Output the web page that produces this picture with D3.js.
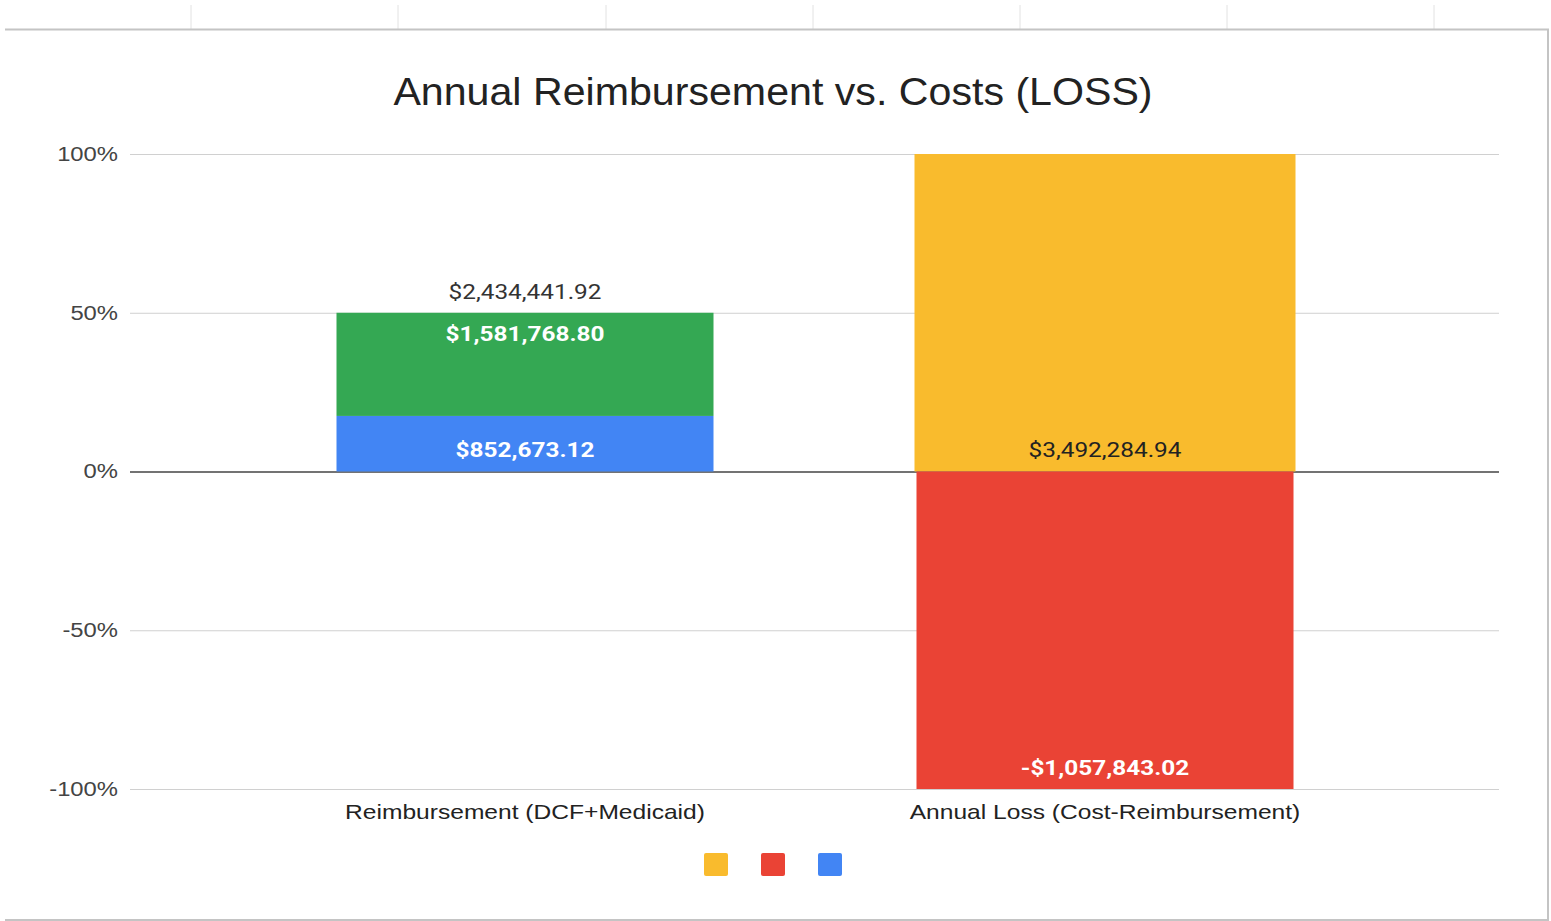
<!DOCTYPE html>
<html>
<head>
<meta charset="utf-8">
<script src="https://cdn.jsdelivr.net/npm/d3@7"></script>
<style>
  body { margin: 0; background: #fff; }
  svg { display: block; }
</style>
</head>
<body>
<svg id="chart"></svg>
<script>
// chart data
const categories = ["Reimbursement (DCF+Medicaid)", "Annual Loss (Cost-Reimbursement)"]
const seriesNames = ["Blue", "Green", "Yellow", "Red"]
// share of each segment, in percent of the stacked axis
const bluePct = [17.5, 0]
const greenPct = [32.5, 0]
const yellowPct = [0, 100]
const redPct = [0, -100]
const segmentLabels = [
    ["$852,673.12", ""],
    ["$1,581,768.80", ""],
    ["", "$3,492,284.94"],
    ["", "-$1,057,843.02"]
]
const totalLabels = ["$2,434,441.92", ""]
const yTicks = [-100, -50, 0, 50, 100]
const legendColors = ["#f9bb2d", "#ea4335", "#4285f4"]

const config = {
    width: 1551,
    height: 921,
    plot: { left: 130, right: 1499, top: 154, bottom: 789 },
    colors: ["#4285f4", "#34a853", "#f9bb2d", "#ea4335"],
    labelColors: ["#ffffff", "#ffffff", "#222222", "#ffffff"],
    labelBold: [true, true, false, true],
    // the screenshot is a bit wider than tall, so text gets stretched sideways
    stretch: 1.16
}

const svg = d3.select('#chart')
    .attr('width', config.width)
    .attr('height', config.height)

// widen a text selection horizontally, keeping its anchor
function stretchText(sel, k) {
    sel.each(function () {
        const len = this.getComputedTextLength()
        if (len > 0) {
            d3.select(this)
                .attr('textLength', len * k)
                .attr('lengthAdjust', 'spacingAndGlyphs')
        }
    })
}

// spreadsheet bits around the chart
const sheetCols = [191, 398, 606, 813, 1020, 1227, 1434]
svg.selectAll('.sheet-col')
    .data(sheetCols)
    .join('line')
        .attr('class', 'sheet-col')
        .attr('x1', d => d).attr('x2', d => d)
        .attr('y1', 5).attr('y2', 29)
        .attr('stroke', '#e2e2e2')
// chart frame: top, right and bottom edges
svg.append('path')
    .attr('d', 'M5,29.5H1548V920H5')
    .attr('fill', 'none')
    .attr('stroke', '#c4c4c4')
    .attr('stroke-width', 2)

const x = d3.scaleBand()
    .domain(categories)
    .range([235, 1395])
    .paddingInner(0.35)
    .paddingOuter(0.175)

const y = d3.scaleLinear()
    .domain([-100, 100])
    .range([config.plot.bottom, config.plot.top])

// title
svg.append('text')
    .attr('x', 773)
    .attr('y', 105)
    .attr('text-anchor', 'middle')
    .attr('font-family', 'Liberation Sans, Arial, sans-serif')
    .attr('font-size', 39)
    .attr('fill', '#222')
    .text('Annual Reimbursement vs. Costs (LOSS)')
    .call(stretchText, 1.055)

// gridlines + y axis labels
const yAxis = d3.axisLeft(y)
    .tickValues(yTicks)
    .tickSize(-(config.plot.right - config.plot.left))
    .tickFormat(d => d + '%')
    .tickPadding(12)

const yAxisGroup = svg.append('g')
    .attr('transform', `translate(${config.plot.left},0)`)
    .call(yAxis)
yAxisGroup.select('.domain').remove()
yAxisGroup.selectAll('.tick line')
    .attr('stroke', d => d === 0 ? '#444' : '#d0d0d0')
    .attr('stroke-width', d => d === 0 ? 1.5 : 1)
yAxisGroup.selectAll('.tick text')
    .attr('font-family', 'Liberation Sans, Arial, sans-serif')
    .attr('font-size', 20)
    .attr('fill', '#444')
    .call(stretchText, 1.19)

// stacked segments
const seriesPct = [bluePct, greenPct, yellowPct, redPct]
const segments = []
categories.forEach((cat, ci) => {
    let pos = 0, neg = 0
    seriesPct.forEach((vals, si) => {
        const v = vals[ci]
        if (!v) return
        let y0, y1
        if (v > 0) { y0 = pos; y1 = pos + v; pos = y1 }
        else { y0 = neg + v; y1 = neg; neg = y0 }
        segments.push({ cat, si, y0, y1, label: segmentLabels[si][ci] })
    })
})

svg.append('g').selectAll('.bar')
    .data(segments)
    .join('rect')
        .attr('class', 'bar')
        .attr('x', d => x(d.cat) - (d.si === 2 ? 2 : 0))
        .attr('width', d => x.bandwidth() + (d.si === 2 ? 4 : 0))
        .attr('y', d => y(d.y1))
        .attr('height', d => y(d.y0) - y(d.y1))
        .attr('fill', d => config.colors[d.si])

// segment labels: inside the top of the upper segment, inside the bottom otherwise
svg.append('g').selectAll('.seg-label')
    .data(segments)
    .join('text')
        .attr('class', 'seg-label')
        .attr('x', d => x(d.cat) + x.bandwidth() / 2)
        .attr('y', d => {
            if (d.si === 0 || d.si === 2) return y(d.y0) - 15
            if (d.si === 3) return y(d.y0) - 14
            return y(d.y1) + 28
        })
        .attr('text-anchor', 'middle')
        .attr('font-family', 'Roboto, sans-serif')
        .attr('font-size', 21)
        .attr('font-weight', d => config.labelBold[d.si] ? 'bold' : 'normal')
        .attr('fill', d => config.labelColors[d.si])
        .text(d => d.label)
        .call(stretchText, config.stretch)

// totals above stacks
svg.append('g').selectAll('.total-label')
    .data(categories.map((c, i) => ({ cat: c, label: totalLabels[i], top: bluePct[i] + greenPct[i] + Math.max(0, yellowPct[i]) })))
    .join('text')
        .attr('class', 'total-label')
        .attr('x', d => x(d.cat) + x.bandwidth() / 2)
        .attr('y', d => y(d.top) - 14)
        .attr('text-anchor', 'middle')
        .attr('font-family', 'Roboto, sans-serif')
        .attr('font-size', 21)
        .attr('fill', '#333')
        .text(d => d.label)
        .call(stretchText, config.stretch)

// x axis category labels
const xAxis = d3.axisBottom(x).tickSize(0).tickPadding(15)
const xAxisGroup = svg.append('g')
    .attr('transform', `translate(0,${config.plot.bottom})`)
    .call(xAxis)
xAxisGroup.select('.domain').remove()
xAxisGroup.selectAll('.tick text')
    .attr('font-family', 'Liberation Sans, Arial, sans-serif')
    .attr('font-size', 21)
    .attr('fill', '#222')
    .call(stretchText, 1.17)

// legend: colour swatches only
const legendX = d3.scalePoint()
    .domain(legendColors)
    .range([716, 830])
svg.append('g').selectAll('.legend')
    .data(legendColors)
    .join('rect')
        .attr('class', 'legend')
        .attr('x', d => legendX(d) - 12)
        .attr('y', 853)
        .attr('width', 24)
        .attr('height', 23)
        .attr('rx', 2)
        .attr('fill', d => d)
</script>
</body>
</html>
